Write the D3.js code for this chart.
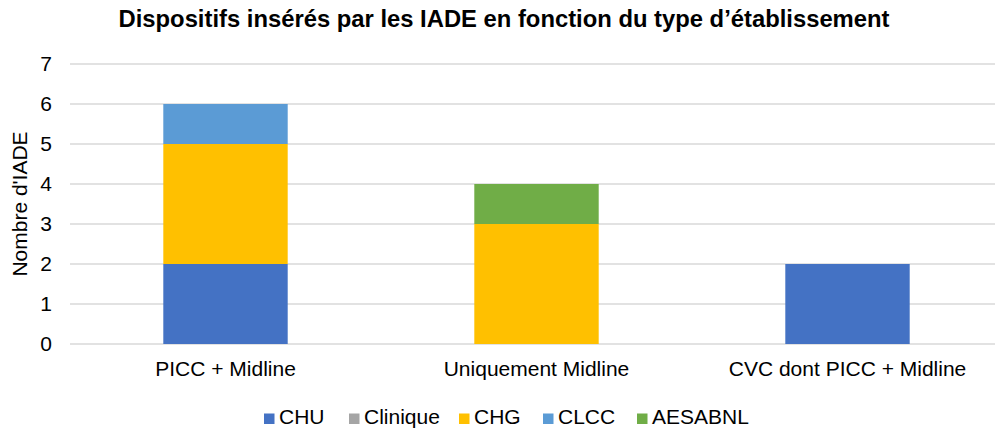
<!DOCTYPE html>
<html>
  <head>
    <meta charset="utf-8">
    <title>Dispositifs insérés par les IADE</title>
    <style>
    body { margin: 0; border: 0; overflow: hidden; background: #fff; }
    text { font-family: "Liberation Sans", Arial, sans-serif; fill: #000; }
    .grid line { stroke: #d9d9d9; stroke-width: 1.5px; }
    </style>
  </head>
  <body>
    <script src="https://cdnjs.cloudflare.com/ajax/libs/d3/7.8.5/d3.min.js"></script>
    <script>
var width = 995,
    height = 429,
    margin = ({top: 64, right: -8, bottom: 85, left: 70});
var fontSize = "21px";

// data
var categories = ["PICC + Midline", "Uniquement Midline", "CVC dont PICC + Midline"];
var series = ["CHU", "Clinique", "CHG", "CLCC", "AESABNL"];
var colors = ["#4472C4", "#A5A5A5", "#FFC000", "#5B9BD5", "#70AD47"];
var CHU = [2, 0, 2];
var Clinique = [0, 0, 0];
var CHG = [3, 3, 0];
var CLCC = [1, 0, 0];
var AESABNL = [0, 1, 0];
var yTicks = [0, 1, 2, 3, 4, 5, 6, 7];

var values = {CHU: CHU, Clinique: Clinique, CHG: CHG, CLCC: CLCC, AESABNL: AESABNL};
var rows = categories.map(function(c, i) {
  var r = {cat: c};
  series.forEach(function(s) { r[s] = values[s][i]; });
  return r;
});
var stacked = d3.stack().keys(series)(rows);

var x = d3.scaleBand().domain(categories).range([margin.left, width - margin.right]).padding(0);
var y = d3.scaleLinear().domain([0, 7]).range([height - margin.bottom, margin.top]);
var color = d3.scaleOrdinal().domain(series).range(colors);
var barW = x.bandwidth() * 0.4;

var svg = d3.select("body").append("svg")
  .attr("width", width)
  .attr("height", height);

// gridlines
svg.append("g").attr("class", "grid")
  .selectAll("line").data(yTicks).enter().append("line")
  .attr("x1", margin.left).attr("x2", width - margin.right)
  .attr("y1", function(d) { return y(d); })
  .attr("y2", function(d) { return y(d); });

// bars
svg.append("g").selectAll("g").data(stacked).enter().append("g")
  .attr("fill", function(d) { return color(d.key); })
  .selectAll("rect").data(function(d) { return d; }).enter().append("rect")
  .attr("x", function(d) { return x(d.data.cat) + (x.bandwidth() - barW) / 2; })
  .attr("y", function(d) { return y(d[1]); })
  .attr("width", barW)
  .attr("height", function(d) { return y(d[0]) - y(d[1]); });

// y axis labels
var yAxis = d3.axisLeft(y).tickValues(yTicks).tickFormat(d3.format("d")).tickSize(0).tickPadding(18);
svg.append("g")
  .attr("transform", "translate(" + margin.left + ",0)")
  .call(yAxis)
  .call(function(g) { g.select(".domain").remove(); })
  .selectAll("text")
  .attr("font-family", null)
  .style("font-size", fontSize);

// x axis labels
var xAxis = d3.axisBottom(x).tickSize(0);
svg.append("g")
  .attr("transform", "translate(0," + (height - margin.bottom) + ")")
  .call(xAxis)
  .call(function(g) { g.select(".domain").remove(); })
  .selectAll("text")
  .attr("font-family", null)
  .attr("dy", null).attr("y", 32)
  .style("font-size", fontSize);

// title
svg.append("text")
  .attr("x", 504).attr("y", 27)
  .attr("text-anchor", "middle")
  .style("font-size", "23.8px").style("font-weight", "bold")
  .text("Dispositifs insérés par les IADE en fonction du type d’établissement");

// y title
svg.append("text")
  .attr("transform", "translate(27," + y(3.5) + ") rotate(-90)")
  .attr("text-anchor", "middle")
  .style("font-size", fontSize)
  .text("Nombre d'IADE");

// legend
var legendX = [264, 349, 459, 543, 637];
var legend = svg.append("g").selectAll("g").data(series).enter().append("g")
  .attr("transform", function(d, i) { return "translate(" + legendX[i] + ",424)"; });
legend.append("rect")
  .attr("x", 0).attr("y", -10.5).attr("width", 10.5).attr("height", 10.5)
  .attr("fill", function(d) { return color(d); });
legend.append("text")
  .attr("x", 15)
  .style("font-size", fontSize)
  .text(function(d) { return d; });
    </script>
  </body>
</html>
